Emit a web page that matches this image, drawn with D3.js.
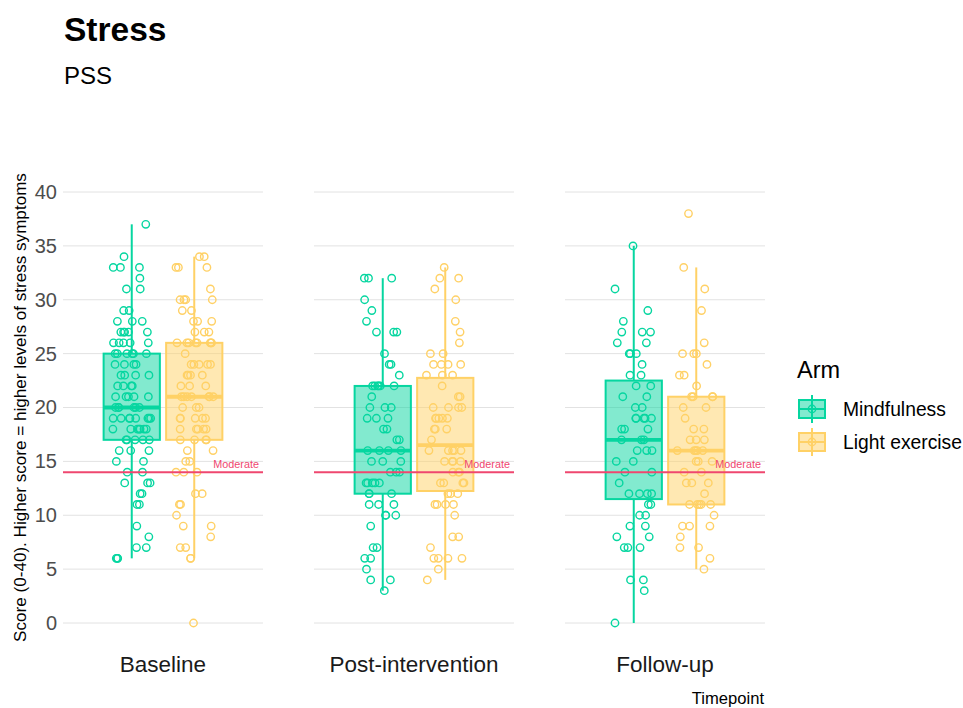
<!DOCTYPE html>
<html>
<head>
<meta charset="utf-8">
<script src="https://cdn.jsdelivr.net/npm/d3@7"></script>
<style>
  html, body { margin: 0; padding: 0; background: #fff; }
  svg { display: block; font-family: "Liberation Sans", Arial, Helvetica, sans-serif; }
</style>
</head>
<body>
<svg id="chart" width="963" height="708"></svg>
<script>
// PSS stress scores (0-40) per participant, by timepoint and arm
const timepoints = ["Baseline", "Post-intervention", "Follow-up"];
const arms = ["Mindfulness", "Light exercise"];
const yTicks = [0, 5, 10, 15, 20, 25, 30, 35, 40];
const moderateCutoff = 14;

const baselineMindfulness = [6,6,6,7,7,8,9,11,11,12,12,13,13,13,14,14,15,15,16,16,16,
  17,17,17,17,17, 18,18,18,18,18,18,18, 19,19,19,19,19,19,19,19, 20,20,20,20,20,20,
  21,21,21,21,21, 22,22,22,22, 23,23,23,23, 24,24,24,24, 25,25,25,25,25,25,
  26,26,26,26,26, 27,27,27,27,27, 28,28,28, 29,29,31,31,32,33,33,33,34,37];
const baselineExercise = [0,6,6,7,7,8,9,9,10,11,11,12,12,14,14,14,15,15,16,16,
  17,17,17,17, 18,18,18,18,18, 19,19,19,19,19, 20,20,20, 21,21,21,21,21,21,21,
  22,22,22, 23,23,23,23, 24,24,24,24,24, 25, 26,26,26,26,26,26,26,26,
  27,27,27, 28,28,28, 29,29, 30,30,30,30, 31, 33,33,33, 34,34];
const postMindfulness = [3,4,4,5,6,6,7,7,9,10,10,10,11,11,11, 12,12,12, 13,13,13,13,13,
  14,14,14, 15,15,15, 16,16,16,16, 17,17,18,18,19,19,19,20,20,20,21,
  22,22,22,22,22,22, 23,24,24,25,27,27,27,28,29,30,32,32,32];
const postExercise = [4,5,6,6,6,6,7,8,8,10,11,11,11,11,12,12,12,
  13,13,13,13,14,14,14,15,15,15,15,16,16,16,16,16,
  17,18,18,18,19,19,19,19,19,20,20,20,20,21,21,22,
  23,23,23,24,24,24,24,25,25,26,27,28,30,31,32,32,33];
const followMindfulness = [0,3,4,4,7,7,7,8,8,9,9,10,10,11,11,
  12,12,12,12,13,14,14,15,15,16,16,16, 17,17,17,
  18,18,18,19,19,19,19,19,20,20,21,21,22,22,
  23,23,24,25,25,25,26,26,27,27,27,28,29,31,35];
const followExercise = [5,6,7,7,8,9,9,9,10,
  11,11,11,11,11,12,13,13,13,14,14,15,15,15,
  16,16,16,16,16,17,17,17,18,18,19,20,20,
  21,21,21,21,22,23,23,24,25,25,25,26,29,31,33,38];

const scores = {
  "Baseline": { "Mindfulness": baselineMindfulness, "Light exercise": baselineExercise },
  "Post-intervention": { "Mindfulness": postMindfulness, "Light exercise": postExercise },
  "Follow-up": { "Mindfulness": followMindfulness, "Light exercise": followExercise }
};

const armColor = d3.scaleOrdinal().domain(arms).range(["#06D6A0", "#FFD166"]);
const cutoffColor = "#EF476F";

const svg = d3.select("#chart");

// Facet panels along x, shared y scale
const facetX = d3.scaleBand().domain(timepoints).range([63, 765]).paddingInner(0.2032).paddingOuter(0);
const y = d3.scaleLinear().domain([0, 40]).range([623, 192]);
const panelTop = 170.5, panelBottom = 644.5;

// Dodge of the two arms inside each panel
const armX = d3.scaleBand().domain(arms)
  .range([facetX.bandwidth() / 2 - 62.5, facetX.bandwidth() / 2 + 62.5])
  .paddingInner(0.1).paddingOuter(0.05);

// Titles
svg.append("text").attr("x", 64).attr("y", 41).attr("font-size", 33.5).attr("font-weight", "bold")
  .attr("fill", "#000").text("Stress");
svg.append("text").attr("x", 64).attr("y", 84).attr("font-size", 24).attr("fill", "#000").text("PSS");

// Y axis title
svg.append("text")
  .attr("transform", `translate(26, ${(panelTop + panelBottom) / 2}) rotate(-90)`)
  .attr("text-anchor", "middle").attr("font-size", 17.1).attr("fill", "#000")
  .text("Score (0-40). Higher score = higher levels of stress symptoms");

// Y tick labels
const yAxis = svg.append("g").attr("transform", "translate(63,0)")
  .call(d3.axisLeft(y).tickValues(yTicks).tickSize(0).tickPadding(6));
yAxis.select(".domain").remove();
yAxis.selectAll("text").attr("font-size", 20).attr("fill", "#4D4D4D")
  .attr("font-family", "'Liberation Sans', Arial, sans-serif");

const jitter = d3.randomUniform.source(d3.randomLcg(0.2718))(-19, 19);

function boxStats(values) {
  const v = values.slice().sort(d3.ascending);
  const q1 = d3.quantile(v, 0.25), med = d3.quantile(v, 0.5), q3 = d3.quantile(v, 0.75);
  const iqr = q3 - q1;
  const lo = d3.min(v.filter(d => d >= q1 - 1.5 * iqr));
  const hi = d3.max(v.filter(d => d <= q3 + 1.5 * iqr));
  return { q1, med, q3, lo, hi };
}

timepoints.forEach(tp => {
  const x0 = facetX(tp);
  const g = svg.append("g").attr("transform", `translate(${x0},0)`);

  // Horizontal grid
  g.selectAll("line.grid").data(yTicks).join("line").attr("class", "grid")
    .attr("x1", 0).attr("x2", facetX.bandwidth())
    .attr("y1", d => y(d)).attr("y2", d => y(d))
    .attr("stroke", "#E2E2E2").attr("stroke-width", 1);

  arms.forEach(arm => {
    const vals = scores[tp][arm];
    const s = boxStats(vals);
    const col = armColor(arm);
    const bx = armX(arm), bw = armX.bandwidth(), cx = bx + bw / 2;

    // Whiskers
    g.append("line").attr("x1", cx).attr("x2", cx).attr("y1", y(s.q3)).attr("y2", y(s.hi))
      .attr("stroke", col).attr("stroke-width", 2);
    g.append("line").attr("x1", cx).attr("x2", cx).attr("y1", y(s.q1)).attr("y2", y(s.lo))
      .attr("stroke", col).attr("stroke-width", 2);
    // Box
    g.append("rect").attr("x", bx).attr("width", bw)
      .attr("y", y(s.q3)).attr("height", y(s.q1) - y(s.q3))
      .attr("fill", col).attr("fill-opacity", 0.5)
      .attr("stroke", col).attr("stroke-width", 2);
    // Median
    g.append("line").attr("x1", bx).attr("x2", bx + bw).attr("y1", y(s.med)).attr("y2", y(s.med))
      .attr("stroke", col).attr("stroke-width", 3.8);

    // Jittered participant scores
    g.append("g").selectAll("circle").data(vals).join("circle")
      .attr("cx", () => cx + jitter())
      .attr("cy", d => y(d))
      .attr("r", 3.7)
      .attr("fill", "none").attr("stroke", col).attr("stroke-width", 1.4);
  });

  // Moderate cut-off
  g.append("line").attr("x1", 0).attr("x2", facetX.bandwidth())
    .attr("y1", y(moderateCutoff)).attr("y2", y(moderateCutoff))
    .attr("stroke", cutoffColor).attr("stroke-width", 2);
  g.append("text").attr("x", facetX.bandwidth() - 4).attr("y", y(moderateCutoff) - 4)
    .attr("text-anchor", "end").attr("font-size", 10.8).attr("fill", cutoffColor).text("Moderate");

  // Facet label
  svg.append("text").attr("x", x0 + facetX.bandwidth() / 2).attr("y", 672)
    .attr("text-anchor", "middle").attr("font-size", 22.5).attr("fill", "#1A1A1A").text(tp);
});

// X axis title
svg.append("text").attr("x", 764).attr("y", 704).attr("text-anchor", "end")
  .attr("font-size", 16.6).attr("fill", "#000").text("Timepoint");

// Legend
const legend = svg.append("g").attr("transform", "translate(797,0)");
legend.append("text").attr("x", 0).attr("y", 378).attr("font-size", 23.5).attr("fill", "#000").text("Arm");
arms.forEach((arm, i) => {
  const cy = 409 + i * 33, col = armColor(arm);
  const k = legend.append("g");
  k.append("line").attr("x1", 15).attr("x2", 15).attr("y1", cy - 14).attr("y2", cy + 14)
    .attr("stroke", col).attr("stroke-width", 2);
  k.append("rect").attr("x", 2).attr("y", cy - 9).attr("width", 26).attr("height", 18)
    .attr("fill", col).attr("fill-opacity", 0.5).attr("stroke", col).attr("stroke-width", 2);
  k.append("line").attr("x1", 2).attr("x2", 28).attr("y1", cy).attr("y2", cy)
    .attr("stroke", col).attr("stroke-width", 2);
  k.append("circle").attr("cx", 15).attr("cy", cy).attr("r", 3.7)
    .attr("fill", "none").attr("stroke", col).attr("stroke-width", 1.4);
  legend.append("text").attr("x", 46).attr("y", cy + 6.5).attr("font-size", 19.3)
    .attr("fill", "#000").text(arm);
});
</script>
</body>
</html>
